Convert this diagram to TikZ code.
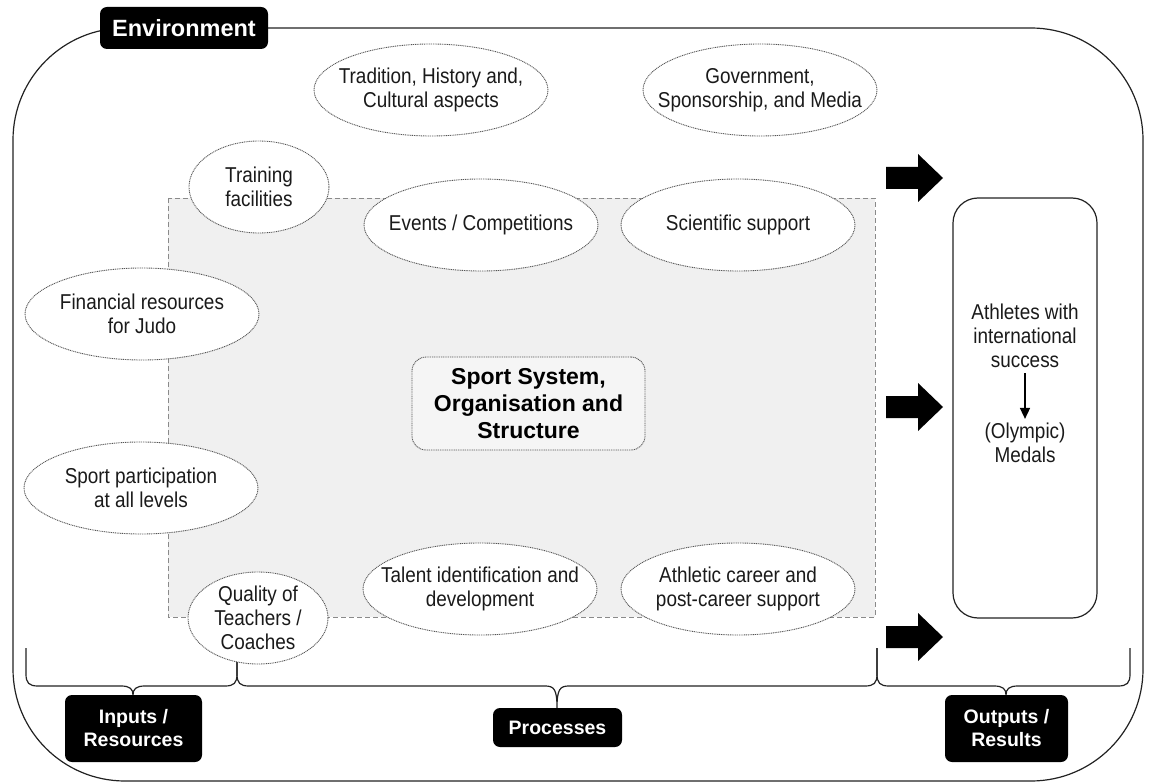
\documentclass[tikz,border=0pt]{standalone}
\usepackage{fontspec}
\setmainfont{Liberation Sans}
\newfontfamily\narrowfont[FakeStretch=0.88]{Liberation Sans}
\usetikzlibrary{shapes.geometric,arrows.meta}

\definecolor{ink}{HTML}{1A1A1A}
\definecolor{frameline}{HTML}{222222}
\definecolor{dotline}{HTML}{555555}
\definecolor{dashline}{HTML}{8A8A8A}
\definecolor{procfill}{HTML}{F0F0F0}
\definecolor{corefill}{HTML}{F5F5F5}

\newcommand\bodyfont{\narrowfont\fontsize{21.5}{24}\selectfont}
\newcommand\tagfont{\bfseries\fontsize{19.5}{23}\selectfont}

% curly brace: left end x, tip x, right end x, tip y
\newcommand\curlybrace[4]{%
  \draw[frameline, line width=1.2pt]
    (#1,648) -- (#1,674) .. controls (#1,683) and (#1+3,686) .. (#1+12,686)
    -- (#2-12,686) .. controls (#2-3,686) and (#2,689) .. (#2,#4)
    .. controls (#2,689) and (#2+3,686) .. (#2+12,686)
    -- (#3-12,686) .. controls (#3-3,686) and (#3,683) .. (#3,674) -- (#3,648);}

\tikzset{
  ell/.style={ellipse, draw=dotline, dash pattern=on 1pt off 0.8pt, line width=0.9pt,
    fill=white, inner sep=0pt, minimum width=234pt, minimum height=92pt},
  smallell/.style={ell, minimum width=140pt},
  txt/.style={align=center, font=\bodyfont, text=ink, inner sep=0pt},
  tag/.style={fill=black, rounded corners=7pt, text=white, font=\tagfont,
    align=center, inner sep=0pt},
}

\begin{document}
\begin{tikzpicture}[x=1pt,y=-1pt]
\useasboundingbox (0,0) rectangle (1156,783);

% environment frame
\draw[frameline, line width=1.2pt, rounded corners=112pt] (13,28) rectangle (1143,781);

% processes area
\draw[dashline, dash pattern=on 5pt off 3pt, line width=0.8pt, fill=procfill]
  (168,198) rectangle (875,617);

% braces under the three stages
\curlybrace{26}{133}{237}{695}
\curlybrace{237}{557}{877}{708}
\curlybrace{877}{1006}{1130}{695}

% factor ellipses
\node[ell] (trad) at (431,90) {};
\node[ell] (gov) at (760,90) {};
\node[smallell] (train) at (259,187) {};
\node[ell] (events) at (481,225) {};
\node[ell] (sci) at (738,225) {};
\node[ell] (fin) at (142,314) {};
\node[ell] (part) at (141,488) {};
\node[smallell] (qual) at (258,618) {};
\node[ell] (talent) at (480,589) {};
\node[ell] (career) at (738,589) {};

\node[txt] (trad-t) at (trad) {Tradition, History and,\\Cultural aspects};
\node[txt] (gov-t) at (gov) {Government,\\Sponsorship, and Media};
\node[txt] (train-t) at (train) {Training\\facilities};
\node[txt] (events-t) at (events) {Events / Competitions};
\node[txt] (sci-t) at (sci) {Scientific support};
\node[txt] (fin-t) at (fin) {Financial resources\\for Judo};
\node[txt] (part-t) at (part) {Sport participation\\at all levels};
\node[txt] (qual-t) at (qual) {Quality of\\Teachers /\\Coaches};
\node[txt] (talent-t) at (talent) {Talent identification and\\development};
\node[txt] (career-t) at (career) {Athletic career and\\post-career support};

% core of the system
\node[draw=dotline, dash pattern=on 1pt off 0.8pt, line width=0.9pt, rounded corners=14pt,
  fill=corefill, minimum width=233pt, minimum height=93pt, align=center, text=black,
  font=\bfseries\fontsize{23}{27}\selectfont] (core) at (528.5,403.5)
  {Sport System,\\Organisation and\\Structure};

% block arrows towards the results
\foreach \cy in {178,407,637}
  \fill[black] (886,\cy-11) -- (918,\cy-11) -- (918,\cy-24) -- (943,\cy)
    -- (918,\cy+24) -- (918,\cy+11) -- (886,\cy+11) -- cycle;

% results box
\node[draw=frameline, line width=1.2pt, rounded corners=25pt,
  minimum width=144pt, minimum height=420pt] (out) at (1025,408) {};
\node[txt] (ath) at (1025,336) {Athletes with\\international\\success};
\node[txt] (med) at (1025,443) {(Olympic)\\Medals};
\draw[-{Triangle[length=11pt,width=10pt]}, line width=1.6pt, shorten <=5pt, shorten >=4pt]
  (ath.south) -- (med.north);

% stage labels
\node[tag, minimum width=168pt, minimum height=42pt,
  font=\bfseries\fontsize{23.5}{28}\selectfont] (env) at (184,28) {Environment};
\node[tag, minimum width=137pt, minimum height=67pt] (inp) at (133.5,728.5) {Inputs /\\Resources};
\node[tag, minimum width=129pt, minimum height=39pt] (proc) at (557.5,727.5) {Processes};
\node[tag, minimum width=123pt, minimum height=67pt] (outp) at (1006.5,728.5) {Outputs /\\Results};
\end{tikzpicture}
\end{document}
